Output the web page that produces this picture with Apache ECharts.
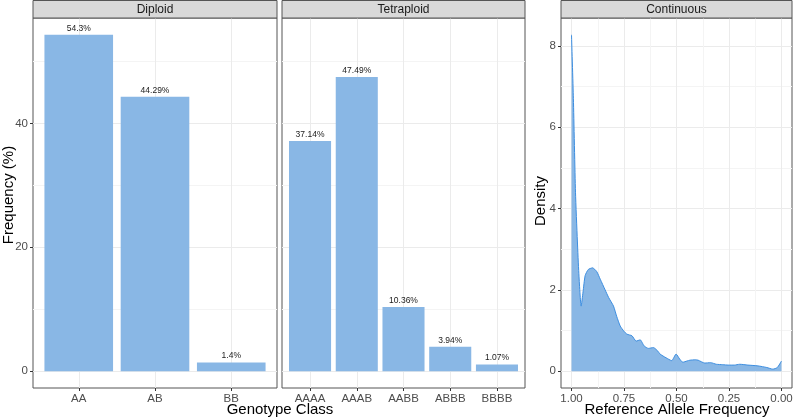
<!DOCTYPE html>
<html>
<head>
<meta charset="utf-8">
<title>Genotype class frequency</title>
<script src="https://cdn.jsdelivr.net/npm/echarts@6/dist/echarts.min.js"></script>
<style>
  html, body { margin: 0; padding: 0; background: #fff; }
  #chart { width: 794px; height: 420px; }
</style>
</head>
<body>
<div id="chart"></div>
<script>
// Diploid panel
var diploidClasses = ['AA', 'AB', 'BB'];
var diploidFreq = [54.3, 44.29, 1.4];

// Tetraploid panel
var tetraClasses = ['AAAA', 'AAAB', 'AABB', 'ABBB', 'BBBB'];
var tetraFreq = [37.14, 47.49, 10.36, 3.94, 1.07];

// Continuous panel (density of the reference allele frequency)
var refAlleleFreq = [1.00, 0.991, 0.981, 0.972, 0.965, 0.954, 0.945, 0.935, 0.92, 0.90,
  0.88, 0.863, 0.84, 0.823, 0.80, 0.785, 0.768, 0.75, 0.736, 0.712,
  0.692, 0.673, 0.654, 0.634, 0.61, 0.59, 0.578, 0.55, 0.523, 0.502,
  0.485, 0.47, 0.45, 0.436, 0.41, 0.397, 0.365, 0.338, 0.31, 0.28,
  0.254, 0.225, 0.199, 0.16, 0.112, 0.07, 0.041, 0.02, 0.0];
var densityValues = [8.27, 6.7, 4.4, 3.2, 2.4, 1.6, 1.95, 2.35, 2.5, 2.54,
  2.45, 2.26, 2.0, 1.81, 1.6, 1.35, 1.11, 0.98, 0.91, 0.87,
  0.74, 0.77, 0.62, 0.56, 0.58, 0.5, 0.42, 0.33, 0.26, 0.42,
  0.3, 0.22, 0.25, 0.27, 0.28, 0.27, 0.2, 0.21, 0.17, 0.16,
  0.15, 0.15, 0.17, 0.15, 0.13, 0.09, 0.05, 0.09, 0.25];

// tick labels
var freqTicks = [0, 20, 40];
var freqMinorTicks = [10, 30, 50];
var densityTicks = [0, 2, 4, 6, 8];
var densityMinorTicks = [1, 3, 5, 7];
var alleleTicks = [0, 0.25, 0.5, 0.75, 1];
var alleleMinorTicks = [0.125, 0.375, 0.625, 0.875];

var FONT = 'Liberation Sans, Arial, sans-serif';
var BAR_COLOR = '#89b7e5';
var LINE_COLOR = '#3d8ee0';
var GRID_MAJOR = '#ebebeb';
var GRID_MINOR = '#f4f4f4';
var BORDER = '#555';

// panel boxes (ggplot-like facets)
var panels = [
  { left: 33, width: 244, title: 'Diploid' },
  { left: 282, width: 243, title: 'Tetraploid' },
  { left: 561, width: 231, title: 'Continuous' }
];
var PANEL_TOP = 18, PANEL_H = 370;

// ggplot default 5% expansion
var freqMax = Math.max.apply(null, diploidFreq.concat(tetraFreq));
var freqPad = freqMax * 0.05;
var densMax = Math.max.apply(null, densityValues);
var densPad = densMax * 0.05;

var chart = echarts.init(document.getElementById('chart'));

function tickLabel() {
  return { color: '#4d4d4d', fontSize: 11.5, fontFamily: FONT };
}

function tickStyle(values) {
  return { show: true, length: 3, lineStyle: { color: '#333' }, customValues: values };
}

// discrete axis drawn as value axis so the 0.6 side padding matches ggplot
function classAxis(grid, classes) {
  var pos = classes.map(function (c, i) { return i + 1; });
  return {
    type: 'value', gridIndex: grid,
    min: 0.4, max: classes.length + 0.6,
    axisLine: { show: false, onZero: false },
    axisTick: tickStyle(pos),
    axisLabel: Object.assign(tickLabel(), {
      customValues: pos, margin: 5,
      formatter: function (v) { return classes[Math.round(v) - 1]; }
    }),
    splitLine: { show: true, lineStyle: { color: GRID_MAJOR, width: 1 } }
  };
}

function minorAxis(grid, min, max, values, inverse) {
  return {
    type: 'value', gridIndex: grid, min: min, max: max, inverse: !!inverse,
    axisLine: { show: false, onZero: false },
    axisTick: { show: false, customValues: values },
    axisLabel: { show: false },
    splitLine: { show: true, lineStyle: { color: GRID_MINOR, width: 1 } }
  };
}

var freqMainLabelled = {
  type: 'value', gridIndex: 0, min: -freqPad, max: freqMax + freqPad,
  axisLine: { show: false, onZero: false },
  axisTick: tickStyle(freqTicks),
  axisLabel: Object.assign(tickLabel(), { customValues: freqTicks, margin: 5 }),
  splitLine: { show: true, lineStyle: { color: GRID_MAJOR, width: 1 } }
};

var freqMainTetra = {
  type: 'value', gridIndex: 1, min: -freqPad, max: freqMax + freqPad,
  axisLine: { show: false, onZero: false },
  axisTick: { show: false, customValues: freqTicks },
  axisLabel: { show: false },
  splitLine: { show: true, lineStyle: { color: GRID_MAJOR, width: 1 } }
};

var densityMain = {
  type: 'value', gridIndex: 2, position: 'left', min: -densPad, max: densMax + densPad,
  axisLine: { show: false, onZero: false },
  axisTick: tickStyle(densityTicks),
  axisLabel: Object.assign(tickLabel(), { customValues: densityTicks, margin: 5 }),
  splitLine: { show: true, lineStyle: { color: GRID_MAJOR, width: 1 } }
};

var alleleMain = {
  type: 'value', gridIndex: 2, position: 'bottom', min: -0.05, max: 1.05, inverse: true,
  axisLine: { show: false, onZero: false },
  axisTick: tickStyle(alleleTicks),
  axisLabel: Object.assign(tickLabel(), {
    customValues: alleleTicks, margin: 5,
    formatter: function (v) { return v.toFixed(2); }
  }),
  splitLine: { show: true, lineStyle: { color: GRID_MAJOR, width: 1 } }
};

function barLabel() {
  return {
    show: true, position: 'top', distance: 2,
    fontSize: 8.5, color: '#1a1a1a', fontFamily: FONT,
    formatter: function (p) { return p.value[1] + '%'; }
  };
}

function axisTitle(text, x, y, vertical) {
  return {
    type: 'text', z: 101, x: x, y: y, rotation: vertical ? Math.PI / 2 : 0,
    style: { text: text, fill: '#000', fontSize: 15, fontFamily: FONT,
      align: 'center', verticalAlign: 'middle' }
  };
}

var graphics = [];
panels.forEach(function (p) {
  graphics.push({
    type: 'rect', z: 100,
    shape: { x: p.left, y: 0.5, width: p.width, height: PANEL_TOP - 0.5 },
    style: { fill: '#d9d9d9', stroke: BORDER, lineWidth: 1 }
  });
  graphics.push({
    type: 'text', z: 101, x: p.left + p.width / 2, y: 9.5,
    style: { text: p.title, fill: '#1a1a1a', fontSize: 12, fontFamily: FONT,
      align: 'center', verticalAlign: 'middle' }
  });
});
graphics.push(axisTitle('Genotype Class', 280, 410, false));
graphics.push(axisTitle('Frequency (%)', 9, 195, true));
graphics.push(axisTitle('Density', 541, 201, true));
graphics.push(axisTitle('Reference Allele Frequency', 677, 410, false));

chart.setOption({
  animation: false,
  backgroundColor: '#fff',
  grid: panels.map(function (p) {
    return {
      left: p.left, top: PANEL_TOP, width: p.width, height: PANEL_H,
      containLabel: false, outerBoundsMode: 'none',
      show: true, borderColor: BORDER, borderWidth: 1, backgroundColor: 'transparent'
    };
  }),
  xAxis: [
    classAxis(0, diploidClasses),
    classAxis(1, tetraClasses),
    alleleMain,
    minorAxis(2, -0.05, 1.05, alleleMinorTicks, true)
  ],
  yAxis: [
    freqMainLabelled,
    minorAxis(0, -freqPad, freqMax + freqPad, freqMinorTicks),
    freqMainTetra,
    minorAxis(1, -freqPad, freqMax + freqPad, freqMinorTicks),
    densityMain,
    minorAxis(2, -densPad, densMax + densPad, densityMinorTicks)
  ],
  series: [
    {
      type: 'bar', xAxisIndex: 0, yAxisIndex: 0, barWidth: 244 / 3.2 * 0.9,
      itemStyle: { color: BAR_COLOR },
      label: barLabel(),
      data: diploidFreq.map(function (v, i) { return [i + 1, v]; })
    },
    {
      type: 'bar', xAxisIndex: 1, yAxisIndex: 2, barWidth: 243 / 5.2 * 0.9,
      itemStyle: { color: BAR_COLOR },
      label: barLabel(),
      data: tetraFreq.map(function (v, i) { return [i + 1, v]; })
    },
    {
      type: 'line', xAxisIndex: 2, yAxisIndex: 4,
      showSymbol: false, smooth: 0.2,
      lineStyle: { color: LINE_COLOR, width: 1 },
      areaStyle: { color: BAR_COLOR, opacity: 1 },
      data: refAlleleFreq.map(function (x, i) { return [x, densityValues[i]]; })
    }
  ],
  graphic: graphics
});
</script>
</body>
</html>
